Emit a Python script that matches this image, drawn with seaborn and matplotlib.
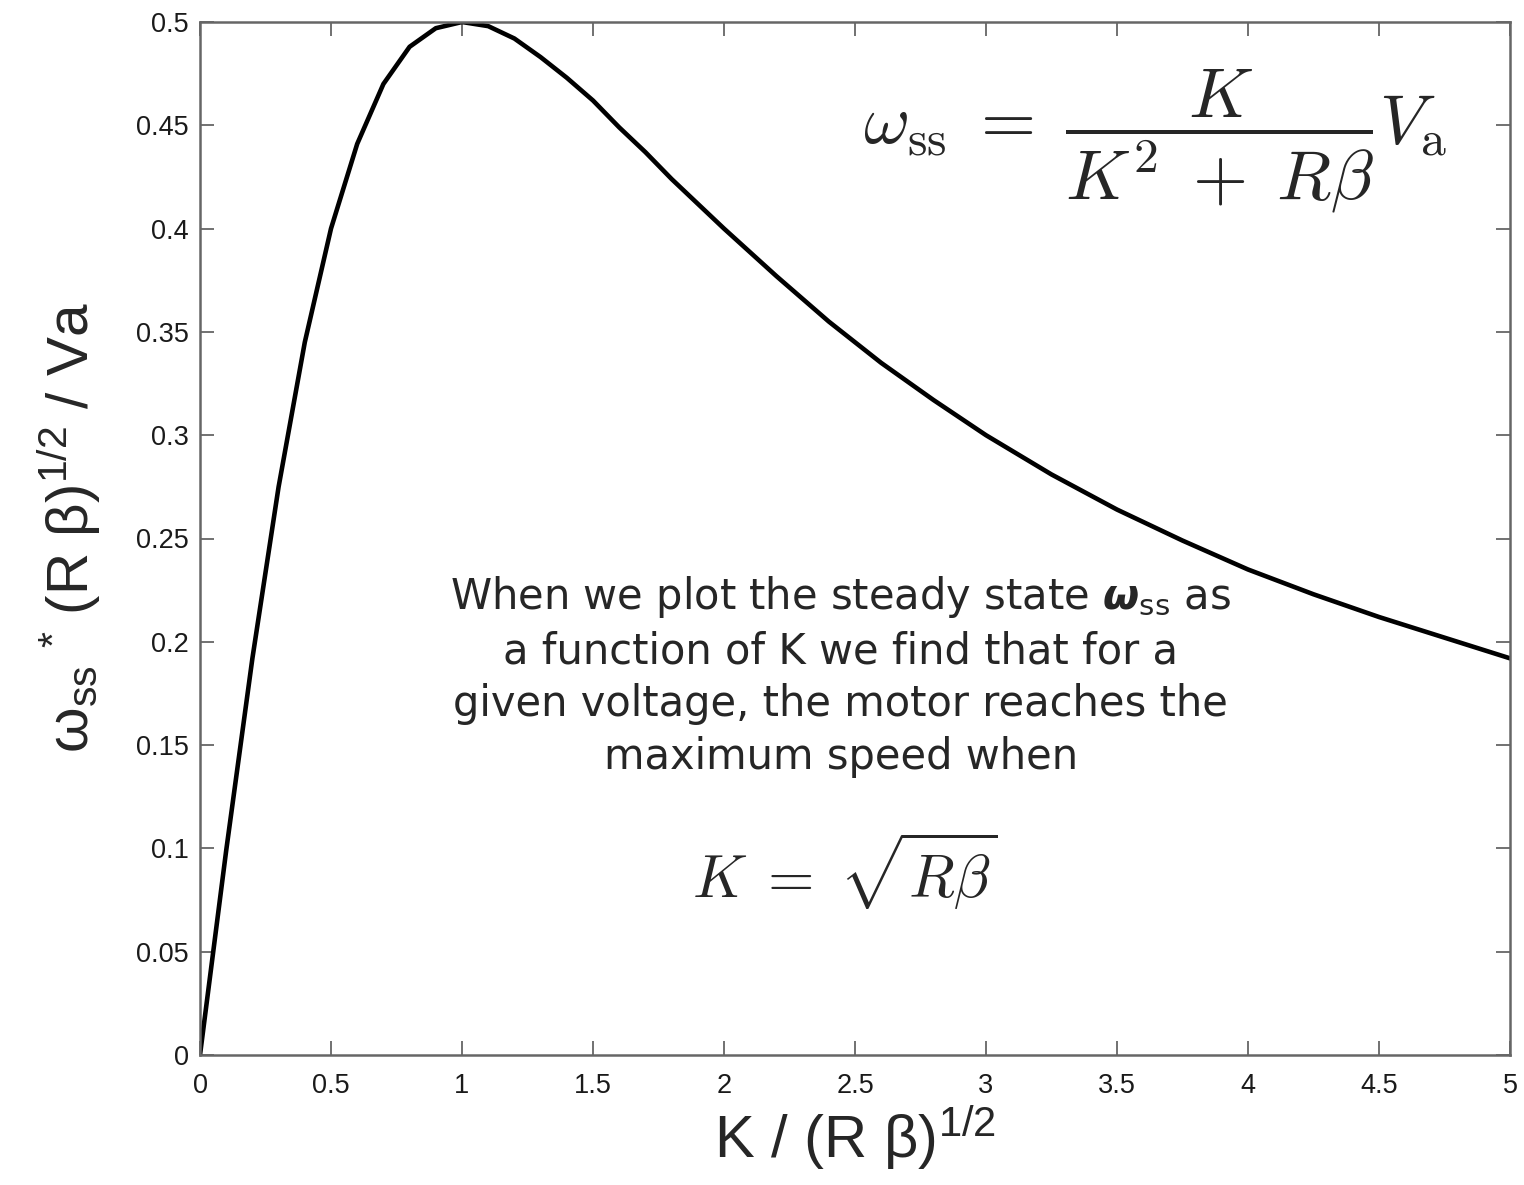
import matplotlib
matplotlib.use("Agg")
import matplotlib.pyplot as plt
import seaborn as sns
import pandas as pd

# Values
k_norm = [0.0, 0.1, 0.2, 0.3, 0.4, 0.5, 0.6, 0.7, 0.8, 0.9, 1.0,
          1.1, 1.2, 1.3, 1.4, 1.5, 1.6, 1.7, 1.8, 1.9, 2.0,
          2.2, 2.4, 2.6, 2.8, 3.0, 3.25, 3.5, 3.75, 4.0, 4.25, 4.5, 4.75, 5.0]
w_norm = [0.0, 0.099, 0.192, 0.275, 0.345, 0.400, 0.441, 0.470, 0.488, 0.497, 0.500,
          0.498, 0.492, 0.483, 0.473, 0.462, 0.449, 0.437, 0.424, 0.412, 0.400,
          0.377, 0.355, 0.335, 0.317, 0.300, 0.281, 0.264, 0.249, 0.235, 0.223, 0.212, 0.202, 0.192]

x_ticks = [0, 0.5, 1, 1.5, 2, 2.5, 3, 3.5, 4, 4.5, 5]
x_tick_labels = ["0", "0.5", "1", "1.5", "2", "2.5", "3", "3.5", "4", "4.5", "5"]
y_ticks = [0, 0.05, 0.1, 0.15, 0.2, 0.25, 0.3, 0.35, 0.4, 0.45, 0.5]
y_tick_labels = ["0", "0.05", "0.1", "0.15", "0.2", "0.25", "0.3", "0.35", "0.4", "0.45", "0.5"]

sns.set_style("ticks")
plt.rcParams["font.family"] = ["Liberation Sans", "DejaVu Sans"]
plt.rcParams["mathtext.fontset"] = "custom"
plt.rcParams["mathtext.rm"] = "Liberation Sans"
plt.rcParams["mathtext.it"] = "Liberation Sans:italic"
plt.rcParams["mathtext.sf"] = "Liberation Sans"

df = pd.DataFrame({"k": k_norm, "w": w_norm})

fig = plt.figure(figsize=(15.24, 11.85), dpi=100)
ax = fig.add_axes([200 / 1524, 1 - 1055 / 1185, 1310 / 1524, (1055 - 22) / 1185])

sns.lineplot(data=df, x="k", y="w", ax=ax, color="black", linewidth=3.3, sort=False)

ax.set_xlim(0, 5)
ax.set_ylim(0, 0.5)
ax.set_xticks(x_ticks)
ax.set_xticklabels(x_tick_labels)
ax.set_yticks(y_ticks)
ax.set_yticklabels(y_tick_labels)
ax.tick_params(direction="in", length=10, width=1.3, top=True, right=True,
               labelsize=19.5, colors="#666666", labelcolor="#1a1a1a")
ax.tick_params(axis="x", pad=13)
ax.tick_params(axis="y", pad=8)
for s in ax.spines.values():
    s.set_color("#666666")
    s.set_linewidth(1.8)

ax.set_xlabel(r"K / (R β)$^{1/2}$", fontsize=43)
ax.xaxis.set_label_coords(0.5, -0.047)
ax.xaxis.label.set_va("top")
ax.set_ylabel(r"ω$_{\mathrm{ss}}$ $^{*}$ (R β)$^{1/2}$ / Va", fontsize=42)
ax.yaxis.set_label_coords(-0.074, 0.51)

# Formulas
ax.text(0.729, 0.884,
        r"$\omega_{\mathrm{ss}}\;=\;\dfrac{K}{K^2\;+\;R\beta}V_{\mathrm{a}}$",
        transform=ax.transAxes, fontsize=51, ha="center", va="center", math_fontfamily="cm")
ax.text(0.492, 0.178, r"$K\;=\;\sqrt{R\beta}$",
        transform=ax.transAxes, fontsize=43, ha="center", va="center", math_fontfamily="cm")

# Annotation text
ax.text(0.489, 0.466,
        "When we plot the steady state $\\boldsymbol{\\omega}_{\\mathrm{ss}}$ as\n"
        "a function of K we find that for a\n"
        "given voltage, the motor reaches the\n"
        "maximum speed when",
        transform=ax.transAxes, fontsize=30, ha="center", va="top",
        family=["DejaVu Sans"], linespacing=1.33, math_fontfamily="dejavusans")

fig.savefig("out.png", dpi=100)
